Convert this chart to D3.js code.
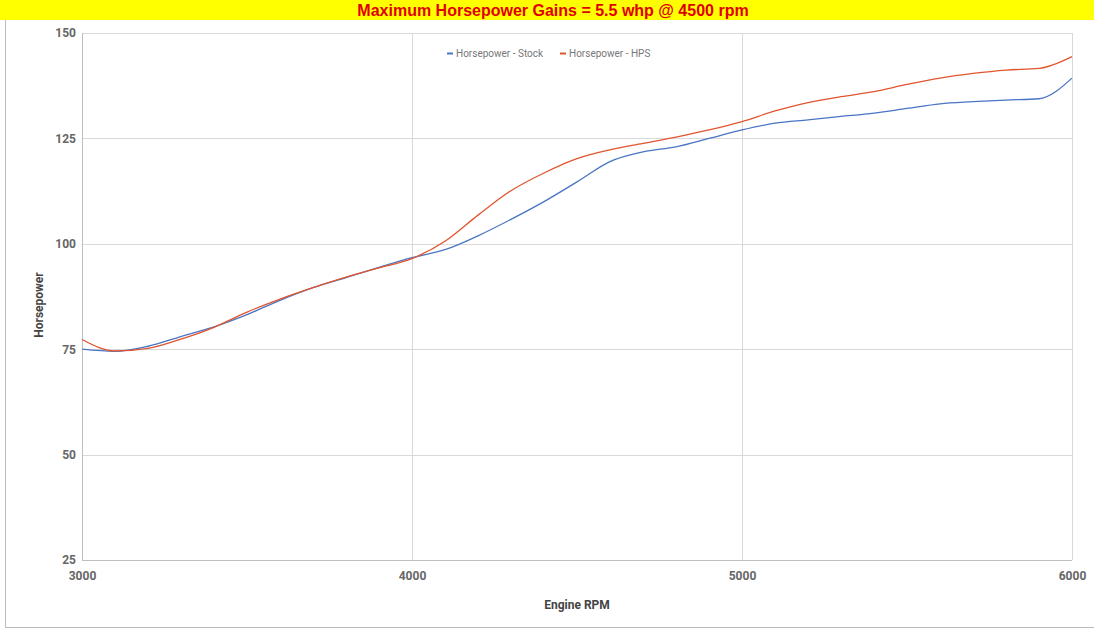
<!DOCTYPE html>
<html><head><meta charset="utf-8">
<script src="https://cdn.jsdelivr.net/npm/d3@7"></script>
<style>body{margin:0;background:#fff;}svg{display:block;}</style>
</head><body><svg id="c" width="1094" height="630"></svg>
<script>
const rpm = [3000,3100,3200,3300,3400,3500,3600,3700,3800,3900,4000,4100,4200,4300,4400,4500,4600,4700,4800,4900,5000,5100,5200,5300,5400,5500,5600,5700,5800,5900,6000];
const stock = [75.0,74.5,75.7,78.0,80.3,83.2,86.6,89.6,92.0,94.4,96.7,98.6,101.9,105.8,110.0,114.7,119.5,121.8,123.0,125.0,127.0,128.6,129.4,130.2,131.0,132.1,133.2,133.7,134.1,134.4,139.3];
const hps = [77.3,74.6,75.2,77.4,80.2,83.8,86.9,89.6,92.1,94.3,96.5,100.6,106.8,112.6,116.8,120.2,122.3,123.8,125.3,127.0,129.0,131.5,133.5,134.9,136.1,137.8,139.3,140.4,141.2,141.6,144.4];
const xTicks = [3000,4000,5000,6000];
const yTicks = [25,50,75,100,125,150];
const seriesNames = ["Horsepower - Stock","Horsepower - HPS"];
const colors = ["#4a74c4","#e0552e"];
const title = "Maximum Horsepower Gains = 5.5 whp @ 4500 rpm";

const svg = d3.select("#c");
const W=1094,H=630;
const m={l:82,r:1072,t:33,b:560};
const x=d3.scaleLinear().domain([3000,6000]).range([m.l,m.r]);
const y=d3.scaleLinear().domain([25,150]).range([m.b,m.t]);

// title bar
svg.append("rect").attr("x",0).attr("y",0).attr("width",W).attr("height",20).attr("fill","#ffff00");
svg.append("text").attr("x",553).attr("y",15.5).attr("text-anchor","middle")
  .attr("font-family","Liberation Sans, Arial, sans-serif").attr("font-weight","bold")
  .attr("font-size",16).attr("fill","#e00000").text(title);
// frame
svg.append("line").attr("x1",5.5).attr("x2",5.5).attr("y1",20).attr("y2",628).attr("stroke","#bbb");
svg.append("line").attr("x1",5).attr("x2",W).attr("y1",627.5).attr("y2",627.5).attr("stroke","#bbb");

// grid
const g=svg.append("g");
g.selectAll(".hg").data(yTicks).join("line")
  .attr("x1",m.l).attr("x2",m.r).attr("y1",d=>Math.round(y(d))+0.5).attr("y2",d=>Math.round(y(d))+0.5)
  .attr("stroke",d=>d===25?"#bdbdbd":"#d9d9d9");
g.selectAll(".vg").data(xTicks).join("line")
  .attr("y1",m.t).attr("y2",m.b).attr("x1",d=>Math.round(x(d))+0.5).attr("x2",d=>Math.round(x(d))+0.5)
  .attr("stroke",d=>d===3000?"#bdbdbd":"#d9d9d9");

// axes labels via d3 axes
const yAxis=svg.append("g").attr("transform",`translate(${m.l-6},0)`)
  .call(d3.axisLeft(y).tickValues(yTicks).tickSize(0).tickPadding(0));
yAxis.select(".domain").remove();
yAxis.selectAll("text").attr("font-family","Roboto, sans-serif").attr("font-size",12).attr("font-weight","bold").attr("fill","#666")
  .attr("dy","0.32em");
const xAxis=svg.append("g").attr("transform",`translate(0,${m.b+11})`)
  .call(d3.axisBottom(x).tickValues(xTicks).tickFormat(d3.format("d")).tickSize(0).tickPadding(0));
xAxis.select(".domain").remove();
xAxis.selectAll("text").attr("font-family","Roboto, sans-serif").attr("font-size",12).attr("font-weight","bold").attr("fill","#666")
  .attr("dy","0.71em");

svg.append("text").attr("x",(m.l+m.r)/2).attr("y",609).attr("text-anchor","middle")
  .attr("font-family","Roboto, sans-serif").attr("font-size",12).attr("font-weight","bold").attr("fill","#444").text("Engine RPM");
svg.append("text").attr("transform","translate(43,305) rotate(-90)").attr("text-anchor","middle")
  .attr("font-family","Roboto, sans-serif").attr("font-size",12).attr("font-weight","bold").attr("fill","#444").text("Horsepower");

// lines
const line=d3.line().x((d,i)=>x(rpm[i])).y(d=>y(d)).curve(d3.curveMonotoneX);
[stock,hps].forEach((s,k)=>{
  svg.append("path").attr("d",line(s)).attr("fill","none").attr("stroke",colors[k]).attr("stroke-width",1.3);
});

// legend
const leg=svg.append("g").attr("font-family","Roboto, sans-serif").attr("font-size",10).attr("fill","#777");
const lx=[447,560];
seriesNames.forEach((n,k)=>{
  leg.append("line").attr("x1",lx[k]).attr("x2",lx[k]+6).attr("y1",53.5).attr("y2",53.5).attr("stroke",colors[k]).attr("stroke-width",2);
  leg.append("text").attr("x",lx[k]+9).attr("y",57).text(n);
});
</script></body></html>
